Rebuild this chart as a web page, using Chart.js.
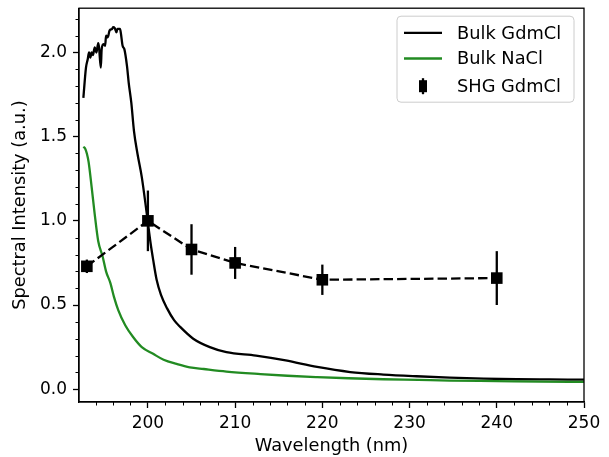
<!DOCTYPE html>
<html><head><meta charset="utf-8">
<script src="https://cdn.jsdelivr.net/npm/chart.js@4/dist/chart.umd.min.js"></script>
<style>html,body{margin:0;padding:0;background:#fff}#wrap{width:609px;height:457px}</style>
</head><body><div id="wrap"><canvas id="c" width="609" height="457"></canvas></div>
<script>
// ---- data ----
const bulkGdmX = [192.6,192.9,193.1,193.25,193.4,193.55,193.7,193.9,194.1,194.3,194.4,194.6,194.7,194.9,195.1,195.2,195.4,195.6,195.9,196.0,196.2,196.4,196.5,196.8,196.9,197.1,197.3,197.6,197.8,198.1,198.4,198.8,199.3,199.9,200.3,200.6,201.0,201.5,202.2,203.0,203.7,205.2,207.1,209.0,212.4,215.8,219.4,223.2,227.0,230.8,234.6,238.5,242.3,246.0,250.0];
const bulkGdmY = [1.73,1.91,1.96,2.00,1.97,2.00,1.985,2.03,2.00,2.056,2.03,1.91,2.02,2.05,2.04,2.10,2.09,2.13,2.14,2.15,2.145,2.12,2.14,2.14,2.115,2.04,2.02,1.92,1.82,1.70,1.535,1.40,1.26,1.03,0.87,0.77,0.65,0.56,0.48,0.41,0.37,0.30,0.25,0.22,0.20,0.171,0.132,0.102,0.087,0.077,0.069,0.063,0.059,0.058,0.057];
const bulkNaClX = [192.6,192.8,193.0,193.2,193.55,193.9,194.3,194.8,195.2,195.7,196.1,196.6,197.4,198.3,199.3,200.6,201.8,203.3,204.8,206.4,209.0,212.9,216.0,219.4,223.0,227.0,231.0,234.6,240.0,245.0,250.0];
const bulkNaClY = [1.44,1.43,1.40,1.35,1.20,1.04,0.88,0.79,0.70,0.63,0.55,0.47,0.38,0.31,0.25,0.21,0.175,0.15,0.13,0.12,0.105,0.09,0.08,0.072,0.065,0.059,0.055,0.051,0.048,0.045,0.043];
const shgX = [193,200,205,210,220,240];
const shgY = [0.73,1.00,0.83,0.75,0.65,0.66];
const shgErr = [0.04,0.18,0.15,0.095,0.09,0.16];
const xTicks = [200,210,220,230,240,250];
const yTicks = [0.0,0.5,1.0,1.5,2.0];
const xMinorStep = 2, yMinorStep = 0.1;
const seriesLabels = ['Bulk GdmCl','Bulk NaCl','SHG GdmCl'];
const xTitle = 'Wavelength (nm)';
const yTitle = 'Spectral Intensity (a.u.)';

const FONT = 'DejaVu Sans';
const pts = (xs, ys) => xs.map((x, i) => ({x, y: ys[i]}));

const errorBars = {
  id: 'errorBars',
  beforeDatasetsDraw(chart) {
    const {ctx, scales: {x, y}} = chart;
    ctx.save();
    ctx.strokeStyle = '#000';
    ctx.lineWidth = 2.3;
    shgX.forEach((v, i) => {
      const px = x.getPixelForValue(v);
      ctx.beginPath();
      ctx.moveTo(px, y.getPixelForValue(shgY[i] - shgErr[i]));
      ctx.lineTo(px, y.getPixelForValue(shgY[i] + shgErr[i]));
      ctx.stroke();
    });
    ctx.restore();
  }
};

const frameAndMinor = {
  id: 'frameAndMinor',
  afterDraw(chart) {
    const {ctx, chartArea: a, scales: {x, y}} = chart;
    ctx.save();
    ctx.strokeStyle = '#000';
    ctx.lineWidth = 1.3;
    ctx.strokeRect(a.left, a.top, a.right - a.left, a.bottom - a.top);
    ctx.lineWidth = 1;
    ctx.beginPath();
    for (let v = Math.ceil(x.min / xMinorStep) * xMinorStep; v <= x.max + 1e-9; v += xMinorStep) {
      if (Math.abs(v % 10) < 1e-6) continue;
      const px = Math.round(x.getPixelForValue(v)) + 0.5;
      ctx.moveTo(px, a.bottom); ctx.lineTo(px, a.bottom + 3.5);
    }
    for (let k = Math.ceil(y.min / yMinorStep); k * yMinorStep <= y.max + 1e-9; k++) {
      if (k % 5 === 0) continue;
      const py = Math.round(y.getPixelForValue(k * yMinorStep)) + 0.5;
      ctx.moveTo(a.left, py); ctx.lineTo(a.left - 3.5, py);
    }
    ctx.stroke();

    // legend
    const L = a.right - 187, T = a.top + 8, W = 177, H = 86, r = 4;
    ctx.beginPath();
    ctx.roundRect(L, T, W, H, r);
    ctx.fillStyle = 'rgba(255,255,255,0.8)';
    ctx.fill();
    ctx.strokeStyle = '#cccccc';
    ctx.lineWidth = 1;
    ctx.stroke();
    const ds = chart.data.datasets;
    const rows = [T + 16.7, T + 42.3, T + 70];
    ctx.font = '17.8px "' + FONT + '"';
    ctx.textBaseline = 'middle';
    ctx.textAlign = 'left';
    rows.forEach((ry, i) => {
      const d = ds[i];
      ctx.strokeStyle = d.borderColor;
      ctx.fillStyle = d.borderColor;
      if (i < 2) {
        ctx.lineWidth = 2.3;
        ctx.beginPath(); ctx.moveTo(L + 7, ry); ctx.lineTo(L + 45, ry); ctx.stroke();
      } else {
        const cx = L + 26;
        ctx.lineWidth = 2.3;
        ctx.beginPath(); ctx.moveTo(cx, ry - 8); ctx.lineTo(cx, ry + 8); ctx.stroke();
        ctx.fillRect(cx - 4, ry - 6, 8, 12);
      }
      ctx.fillStyle = '#000';
      ctx.fillText(d.label, L + 60, ry + 1);
    });
    ctx.restore();
  }
};

new Chart(document.getElementById('c'), {
  type: 'line',
  data: {
    datasets: [
      { label: seriesLabels[0], data: pts(bulkGdmX, bulkGdmY), borderColor: '#000', backgroundColor: '#000', borderWidth: 2.3, pointRadius: 0, cubicInterpolationMode: 'monotone', order: 2 },
      { label: seriesLabels[1], data: pts(bulkNaClX, bulkNaClY), borderColor: '#228b22', backgroundColor: '#228b22', borderWidth: 2.3, pointRadius: 0, cubicInterpolationMode: 'monotone', order: 1 },
      { label: seriesLabels[2], data: pts(shgX, shgY), borderColor: '#000', backgroundColor: '#000', borderWidth: 2.3, borderDash: [9.4, 4.1], pointStyle: 'rect', pointRadius: 8.2, pointBorderWidth: 0, tension: 0, order: 0, clip: false }
    ]
  },
  options: {
    responsive: false, animation: false, devicePixelRatio: 1,
    layout: { padding: { top: 8, right: 25, left: 0, bottom: 0 } },
    plugins: { legend: { display: false }, tooltip: { enabled: false } },
    scales: {
      x: {
        type: 'linear', min: 192.1, max: 250,
        afterBuildTicks: s => { s.ticks = xTicks.map(v => ({ value: v })); },
        afterFit: s => { s.height = 55; s.paddingLeft = 0; s.paddingRight = 0; },
        grid: { drawOnChartArea: false, drawTicks: true, tickLength: 6, color: '#000', tickWidth: 1.3 },
        border: { display: true, color: '#000', width: 1.3 },
        ticks: { color: '#000', font: { family: FONT, size: 17 }, padding: 5, autoSkip: false, maxRotation: 0, callback: v => String(v) },
        title: { display: true, text: xTitle, color: '#000', font: { family: FONT, size: 17.8 }, padding: { top: 0, bottom: 0 } }
      },
      y: {
        type: 'linear', min: -0.076, max: 2.263,
        afterBuildTicks: s => { s.ticks = yTicks.map(v => ({ value: v })); },
        afterFit: s => { s.width = 79; s.paddingTop = 0; s.paddingBottom = 0; },
        grid: { drawOnChartArea: false, drawTicks: true, tickLength: 6, color: '#000', tickWidth: 1.3 },
        border: { display: true, color: '#000', width: 1.3 },
        ticks: { color: '#000', font: { family: FONT, size: 17 }, padding: 6, autoSkip: false, callback: v => v.toFixed(1) },
        title: { display: true, text: yTitle, color: '#000', font: { family: FONT, size: 17.8 }, padding: { top: 10, bottom: 0 } }
      }
    }
  },
  plugins: [errorBars, frameAndMinor]
});
</script>
</body></html>
